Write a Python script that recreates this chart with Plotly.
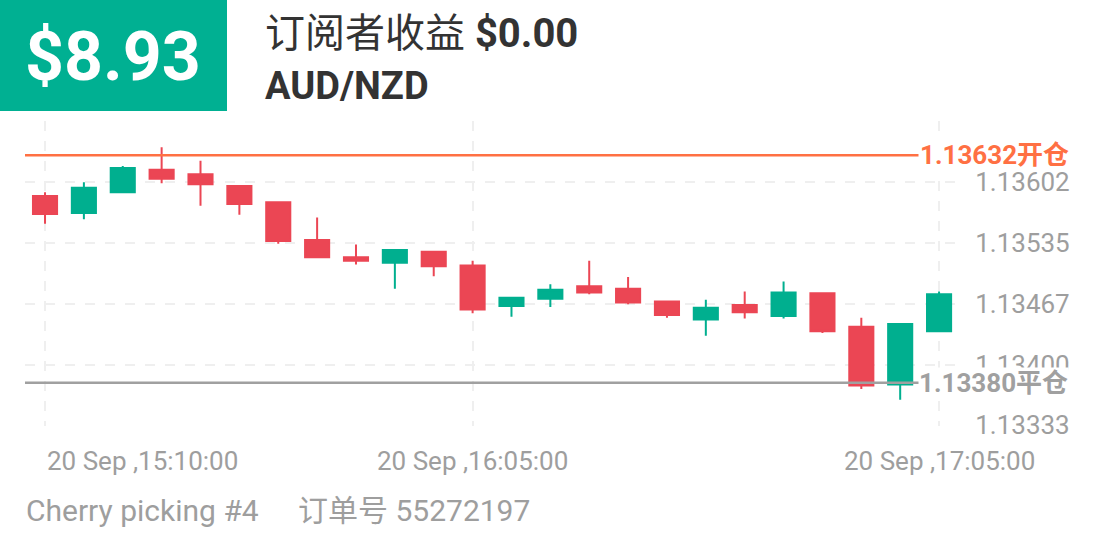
import plotly.graph_objects as go

# ---------------- data ----------------
times = [
    "2023-09-20 15:10", "2023-09-20 15:15", "2023-09-20 15:20", "2023-09-20 15:25",
    "2023-09-20 15:30", "2023-09-20 15:35", "2023-09-20 15:40", "2023-09-20 15:45",
    "2023-09-20 15:50", "2023-09-20 15:55", "2023-09-20 16:00", "2023-09-20 16:05",
    "2023-09-20 16:10", "2023-09-20 16:15", "2023-09-20 16:20", "2023-09-20 16:25",
    "2023-09-20 16:30", "2023-09-20 16:35", "2023-09-20 16:40", "2023-09-20 16:45",
    "2023-09-20 16:50", "2023-09-20 16:55", "2023-09-20 17:00", "2023-09-20 17:05",
]
open_ = [1.13587, 1.13568, 1.13591, 1.13616, 1.13611, 1.13598, 1.13580, 1.13538,
         1.13519, 1.13513, 1.13525, 1.13510, 1.13465, 1.13473, 1.13487, 1.13484,
         1.13470, 1.13450, 1.13466, 1.13454, 1.13479, 1.13442, 1.13378, 1.13437]
high = [1.13591, 1.13602, 1.13620, 1.13641, 1.13626, 1.13598, 1.13580, 1.13563,
        1.13533, 1.13527, 1.13525, 1.13515, 1.13475, 1.13489, 1.13515, 1.13497,
        1.13470, 1.13472, 1.13481, 1.13492, 1.13480, 1.13452, 1.13445, 1.13481]
low = [1.13556, 1.13561, 1.13591, 1.13601, 1.13576, 1.13566, 1.13534, 1.13519,
       1.13511, 1.13484, 1.13498, 1.13457, 1.13453, 1.13464, 1.13478, 1.13467,
       1.13452, 1.13432, 1.13451, 1.13451, 1.13435, 1.13373, 1.13361, 1.13437]
close = [1.13567, 1.13596, 1.13618, 1.13606, 1.13600, 1.13578, 1.13537, 1.13519,
         1.13515, 1.13527, 1.13509, 1.13461, 1.13474, 1.13483, 1.13480, 1.13469,
         1.13455, 1.13463, 1.13458, 1.13480, 1.13437, 1.13377, 1.13445, 1.13478]

y_ticks = [1.13333, 1.13400, 1.13467, 1.13535, 1.13602, 1.13669]
y_tick_text = ["1.13333", "1.13400", "1.13467", "1.13535", "1.13602", ""]
x_tick_times = ["2023-09-20 15:10", "2023-09-20 16:05", "2023-09-20 17:05"]
x_tick_text = ["20 Sep ,15:10:00", "20 Sep ,16:05:00", "20 Sep ,17:05:00"]

open_price = 1.13632
open_label = "1.13632开仓"
close_price = 1.13380
close_label = "1.13380平仓"

profit_text = "$8.93"
subscriber_text = "订阅者收益 <b>$0.00</b>"
symbol_text = "AUD/NZD"
strategy_text = "Cherry picking #4"
order_text = "订单号 55272197"

# ---------------- style ----------------
GREEN = "#00AF8F"
RED = "#EB4654"
ORANGE = "#FF7043"
GREY_LINE = "#A0A0A0"
TICK_GREY = "#9E9E9E"
GRID = "#EFEFEF"
FONT = "Roboto, 'Noto Sans CJK SC', sans-serif"

W, H = 1108, 554
ML, MR, MT, MB = 25, 153, 121, 128
PW = W - ML - MR
PH = H - MT - MB


def px(xp):
    return (xp - ML) / PW


def py(yp):
    return (H - MB - yp) / PH


fig = go.Figure()
fig.add_trace(go.Candlestick(
    x=times, open=open_, high=high, low=low, close=close,
    increasing=dict(fillcolor=GREEN, line=dict(color=GREEN, width=2)),
    decreasing=dict(fillcolor=RED, line=dict(color=RED, width=2)),
    whiskerwidth=0, showlegend=False, hoverinfo="skip",
))

# reference lines
fig.add_shape(type="line", xref="paper", yref="y", x0=0, x1=px(920),
              y0=open_price, y1=open_price, line=dict(color=ORANGE, width=2.5))
fig.add_shape(type="line", xref="paper", yref="y", x0=0, x1=px(920),
              y0=close_price, y1=close_price, line=dict(color=GREY_LINE, width=2.5))

# header box
fig.add_shape(type="rect", xref="paper", yref="paper", x0=px(0), x1=px(227),
              y0=py(111), y1=py(0), fillcolor="#00B092", line=dict(width=0), layer="above")

ann = []
ann.append(dict(text=f"<b>{profit_text}</b>", xref="paper", yref="paper",
                x=px(113), y=py(57), xanchor="center", yanchor="middle",
                showarrow=False, font=dict(size=68, color="white", family=FONT)))
ann.append(dict(text=subscriber_text, xref="paper", yref="paper",
                x=px(263), y=py(33), xanchor="left", yanchor="middle",
                showarrow=False, font=dict(size=40, color="#333333", family=FONT)))
ann.append(dict(text=f"<b>{symbol_text}</b>", xref="paper", yref="paper",
                x=px(263), y=py(86), xanchor="left", yanchor="middle",
                showarrow=False, font=dict(size=38, color="#333333", family=FONT)))
ann.append(dict(text=strategy_text, xref="paper", yref="paper",
                x=px(24), y=py(510), xanchor="left", yanchor="middle",
                showarrow=False, font=dict(size=30, color=TICK_GREY, family=FONT)))
ann.append(dict(text=order_text, xref="paper", yref="paper",
                x=px(296), y=py(510), xanchor="left", yanchor="middle",
                showarrow=False, font=dict(size=30, color=TICK_GREY, family=FONT)))
for i, (t, lab) in enumerate(zip(x_tick_times, x_tick_text)):
    ann.append(dict(text=lab, xref="x", yref="paper", x=t, y=py(461),
                    xanchor="left" if i == 0 else "center", yanchor="middle",
                    showarrow=False, font=dict(size=26, color=TICK_GREY, family=FONT)))
ann.append(dict(text=f"<b>{open_label}</b>", xref="paper", yref="y",
                x=px(918), y=open_price, xanchor="left", yanchor="middle",
                showarrow=False, bgcolor="white", borderpad=1,
                font=dict(size=26, color=ORANGE, family=FONT)))
ann.append(dict(text=f"<b>{close_label}</b>", xref="paper", yref="y",
                x=px(918), y=close_price, xanchor="left", yanchor="middle",
                showarrow=False, bgcolor="white", borderpad=0,
                font=dict(size=26, color=GREY_LINE, family=FONT)))

fig.update_layout(
    width=W, height=H,
    margin=dict(l=ML, r=MR, t=MT, b=MB, pad=0),
    paper_bgcolor="white", plot_bgcolor="white",
    font=dict(family=FONT),
    boxgap=0.38, boxgroupgap=0,
    annotations=ann,
    xaxis=dict(
        type="date",
        range=["2023-09-20 15:07:25.5", "2023-09-20 17:07:03"],
        tickvals=x_tick_times, showticklabels=False, ticks="",
        showgrid=True, gridcolor=GRID, gridwidth=2, griddash="10px,10px",
        zeroline=False, showline=False,
        rangeslider=dict(visible=False), fixedrange=True,
    ),
    yaxis=dict(
        side="right", range=[1.13332, 1.13670],
        tickvals=y_ticks, ticktext=y_tick_text,
        ticks="outside", ticklen=14, tickcolor="rgba(0,0,0,0)",
        tickfont=dict(size=26, color=TICK_GREY, family=FONT),
        showgrid=True, gridcolor=GRID, gridwidth=2, griddash="10px,10px",
        zeroline=False, showline=False, fixedrange=True,
    ),
)

fig.write_html("out.html", config={"displayModeBar": False},
               post_script="document.body.style.margin='0';document.body.style.overflow='hidden';")
